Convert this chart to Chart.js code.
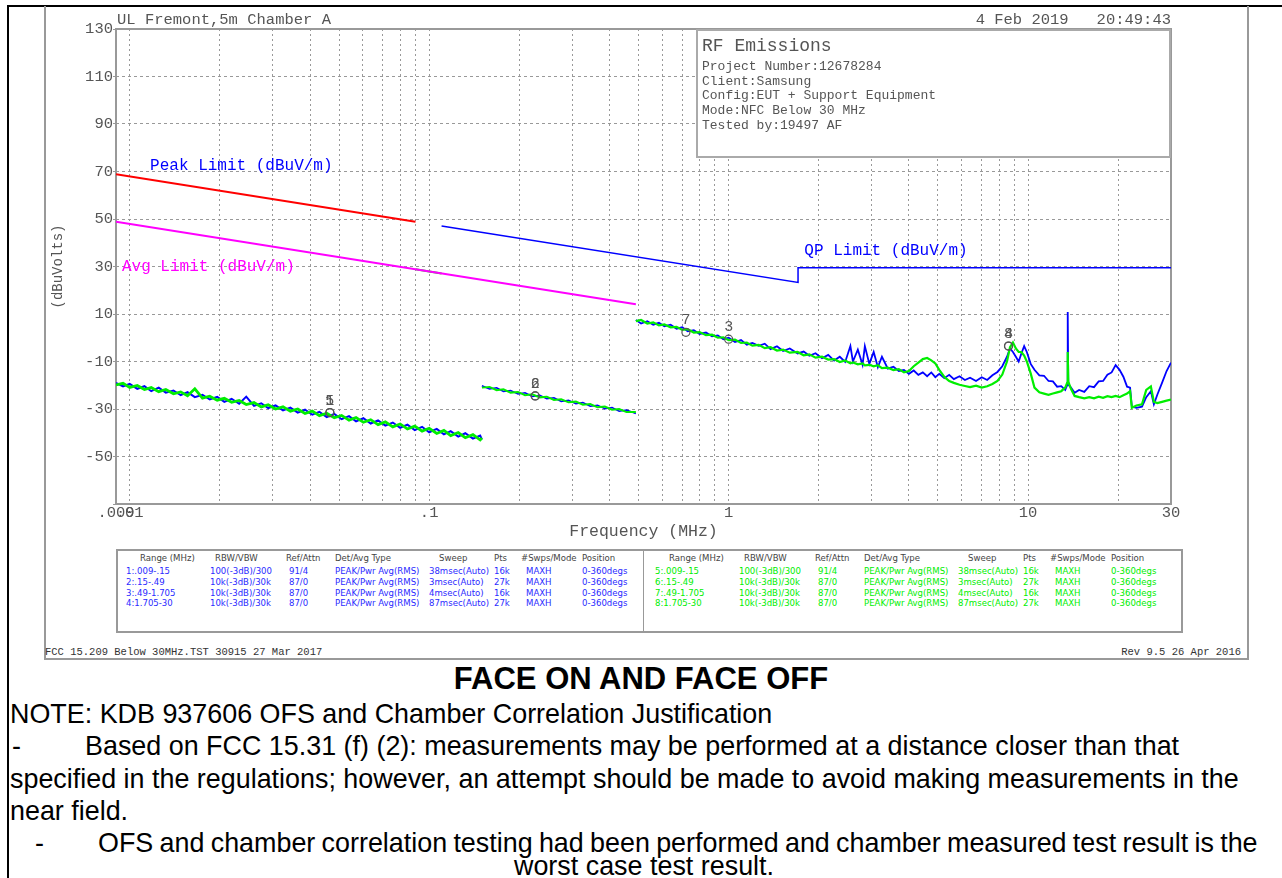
<!DOCTYPE html>
<html>
<head>
<meta charset="utf-8">
<script src="https://cdn.jsdelivr.net/npm/chart.js@4.4.1/dist/chart.umd.min.js"></script>
<style>
body { margin: 0; width: 1282px; height: 878px; position: relative; overflow: hidden; background: #fff; font-family: 'Liberation Sans', Arial, sans-serif; }
.abs { position: absolute; white-space: pre; }
.plt { font-family: 'Liberation Mono', monospace; color: #555; }
#rfbox { position: absolute; left: 696px; top: 29px; width: 471px; height: 125px; border: 2px solid #aaa; background: #fff; }
#tbl { position: absolute; left: 116px; top: 549px; width: 1063px; height: 80px; border: 2px solid #999; }
#tbl .div { position: absolute; left: 525px; top: 0; width: 1px; height: 80px; background: #999; }
.tc { position: absolute; white-space: pre; font-family: 'Liberation Sans Narrow', 'DejaVu Sans Condensed', 'Liberation Sans', sans-serif; font-size: 9.5px; line-height: 10px; }
.note { position: absolute; white-space: pre; font-size: 26.9px; line-height: 30px; color: #000; }
</style>
</head>
<body>
<div class="abs" style="left:7px;top:5px;width:2px;height:873px;background:#000"></div>
<div class="abs" style="left:7px;top:5px;width:1275px;height:2px;background:#000"></div>
<div class="abs" style="left:44px;top:6px;width:1201px;height:652px;border:2px solid #999;border-top:none"></div>

<canvas id="emc" width="1282" height="548" style="position:absolute;left:0;top:0"></canvas>

<div class="abs plt" style="left:117px;top:11px;font-size:15.5px;line-height:18px">UL Fremont,5m Chamber A</div>
<div class="abs plt" style="right:111px;top:11px;font-size:15.5px;line-height:18px">4 Feb 2019   20:49:43</div>

<div id="rfbox">
  <div class="abs plt" style="left:4px;top:4px;font-size:18px;line-height:22px">RF Emissions</div>
  <div class="abs plt" style="left:4px;top:29px;font-size:13px;line-height:14.7px">Project Number:12678284
Client:Samsung
Config:EUT + Support Equipment
Mode:NFC Below 30 MHz
Tested by:19497 AF</div>
</div>

<div id="tbl"><div class="div"></div></div>

<div class="abs plt" style="left:45px;top:646px;font-size:10.5px;line-height:12px;color:#333">FCC 15.209 Below 30MHz.TST 30915 27 Mar 2017</div>
<div class="abs plt" style="right:41px;top:646px;font-size:10.5px;line-height:12px;color:#333">Rev 9.5 26 Apr 2016</div>

<div class="abs" style="left:0;width:1282px;top:662px;text-align:center;font-weight:bold;font-size:31px;line-height:34px">FACE ON AND FACE OFF</div>
<div class="note" style="left:10px;top:699px">NOTE: KDB 937606 OFS and Chamber Correlation Justification</div>
<div class="note" style="left:12px;top:731px">-</div>
<div class="note" style="left:85px;top:731px">Based on FCC 15.31 (f) (2): measurements may be performed at a distance closer than that</div>
<div class="note" style="left:10px;top:764px">specified in the regulations; however, an attempt should be made to avoid making measurements in the</div>
<div class="note" style="left:10px;top:796px">near field.</div>
<div class="note" style="left:35px;top:828px">-</div>
<div class="note" style="left:98px;top:828px;word-spacing:-1.2px">OFS and chamber correlation testing had been performed and chamber measured test result is the</div>
<div class="note" style="left:0;width:1288px;top:851px;text-align:center">worst case test result.</div>

<script>
// limit lines (MHz, dBuV/m)
const peakLimitFreq = [0.009, 0.09];
const peakLimitVal = [68.8, 48.8];
const avgLimitFreq = [0.009, 0.49];
const avgLimitVal = [48.8, 14.1];
const midLimitFreq = [0.09, 0.11];
const midLimitVal = [28.8, 27.1];
const qpLimitFreq = [0.11, 1.705, 1.705, 30];
const qpLimitVal = [47.1, 23.3, 29.5, 29.5];

// trace, range .009-.15
const seg1Freq = [0.009, 0.0095, 0.01, 0.0106, 0.0112, 0.0118, 0.0125, 0.0132, 0.014, 0.0148, 0.0156, 0.0165, 0.0175,
  0.0185, 0.0196, 0.0207, 0.0219, 0.0232, 0.0245, 0.026, 0.0275, 0.029, 0.0307, 0.0325, 0.0344, 0.0364, 0.0385, 0.0407,
  0.043, 0.0455, 0.0482, 0.051, 0.054, 0.057, 0.0603, 0.0638, 0.0675, 0.0714, 0.0756, 0.08, 0.0846, 0.0895, 0.0947, 0.1,
  0.106, 0.112, 0.118, 0.125, 0.132, 0.14, 0.148, 0.15];
const seg1Blue = [-19.0, -20.5, -19.4, -21.5, -20.4, -22.5, -21.0, -23.1, -22.2, -24.2, -22.9, -25.0, -24.0,
  -26.0, -24.9, -27.0, -25.7, -27.8, -24.8, -28.7, -27.6, -29.6, -28.5, -30.6, -29.4, -31.5, -30.3, -32.4,
  -31.2, -33.4, -32.1, -34.3, -33.0, -35.2, -33.9, -36.1, -34.8, -37.0, -35.7, -37.9, -36.6, -38.9, -37.5, -39.8,
  -38.4, -40.7, -39.3, -41.6, -40.2, -42.5, -41.2, -42.8];
const seg1Green = [-19.9, -19.2, -20.9, -20.1, -21.8, -21.0, -22.7, -21.8, -23.6, -22.8, -24.4, -21.5, -25.4,
  -24.6, -26.3, -25.5, -27.2, -26.4, -28.1, -27.3, -29.1, -28.2, -30.0, -29.1, -30.9, -30.0, -31.9, -30.9,
  -32.8, -31.8, -33.7, -32.7, -34.7, -33.6, -35.6, -34.5, -36.6, -35.4, -37.5, -36.3, -38.4, -37.2, -39.3, -38.1,
  -40.3, -39.0, -41.2, -39.9, -42.1, -40.8, -43.0, -42.2];

// trace, range .15-.49
const seg2Freq = [0.15, 0.159, 0.168, 0.177, 0.187, 0.198, 0.209, 0.221, 0.234, 0.247, 0.261, 0.276, 0.292, 0.309,
  0.326, 0.345, 0.365, 0.386, 0.408, 0.431, 0.456, 0.49];
const seg2Blue = [-20.2, -21.6, -21.1, -22.6, -22.2, -23.7, -23.2, -24.7, -24.2, -25.7, -25.3, -26.8, -26.3, -27.8,
  -27.3, -28.8, -28.4, -29.9, -29.4, -30.9, -30.4, -31.9];
const seg2Green = [-21.0, -20.7, -22.1, -21.7, -23.1, -22.8, -24.2, -23.8, -25.1, -24.8, -26.2, -25.9, -27.2, -26.9,
  -28.2, -27.9, -29.3, -29.0, -30.3, -30.0, -31.3, -31.3];

// trace, ranges .49-1.705 and 1.705-30
const seg3Freq = [0.49, 0.51, 0.535, 0.56, 0.585, 0.61, 0.64, 0.67, 0.70, 0.73, 0.765, 0.80, 0.84, 0.88, 0.92, 0.96,
  1.0, 1.05, 1.10, 1.15, 1.2, 1.26, 1.32, 1.38, 1.45, 1.52, 1.6, 1.7, 1.78, 1.86, 1.95, 2.05, 2.15, 2.25, 2.35, 2.45,
  2.55, 2.6, 2.7, 2.8, 2.85, 2.95, 3.05, 3.15, 3.25, 3.4, 3.55, 3.7, 3.85, 4.0, 4.15, 4.3, 4.45, 4.6, 4.75, 4.9,
  5.05, 5.25, 5.45, 5.65, 5.9, 6.15, 6.4, 6.7, 7.0, 7.3, 7.6, 7.9, 8.2, 8.5, 8.7, 8.9, 9.1, 9.3, 9.5, 9.7, 9.9,
  10.2, 10.5, 10.9, 11.3, 11.7, 12.1, 12.5, 12.9, 13.3, 13.5, 13.56, 13.62, 13.9, 14.3, 14.8, 15.4, 16.0, 16.6,
  17.2, 17.8, 18.4, 19.0, 19.6, 20.2, 20.8, 21.4, 21.9, 22.2, 23, 24, 24.8, 25.7, 26.3, 27, 28, 29, 30];
const seg3Blue = [7.5, 6.0, 7.0, 5.5, 6.3, 4.8, 5.5, 3.8, 4.4, 2.7, 3.2, 1.6, 2.2, 0.6, 1.0, -0.6,
  0.0, -1.8, -1.0, -2.9, -2.2, -3.4, -2.5, -4.8, -3.6, -5.6, -4.5, -6.6, -5.8, -7.6, -6.5, -8.6, -7.2, -9.6, -8.0, -10.2,
  -3.5, -10.0, -5.0, -11.4, -3.5, -11.0, -6.0, -12.4, -8.0, -13.0, -12.2, -14.0, -13.6, -15.2, -13.8, -15.6, -14.6, -16.2, -14.6, -16.6,
  -15.2, -17.0, -15.6, -17.4, -16.2, -17.8, -16.8, -18.2, -16.6, -17.8, -15.8, -14.4, -12.0, -8.0, -4.5, -6.0, -8.0, -10.0, -6.5, -3.5, -6.0,
  -11.0, -13.5, -15.8, -16.0, -18.2, -18.4, -20.6, -20.4, -22.0, -20.0, 10.8, -19.5, -21.0, -23.2, -22.0, -22.8, -20.4, -20.8,
  -18.4, -18.2, -15.6, -14.6, -11.5, -13.5, -16.4, -20.6, -21.0, -29.0, -29.5, -29.0, -25.0, -22.5, -28.0, -24.0, -19.0, -14.0, -10.5];
const seg3Green = [7.0, 7.5, 6.0, 6.5, 5.2, 5.6, 4.4, 4.6, 3.3, 3.6, 2.2, 2.4, 1.1, 1.3, 0.0, 0.2,
  -1.0, -0.8, -2.2, -2.0, -3.3, -3.0, -4.4, -4.0, -5.4, -5.0, -6.3, -6.0, -7.4, -7.0, -8.4, -8.0, -9.2, -9.0, -10.2, -9.6,
  -10.8, -10.4, -11.2, -10.8, -11.6, -11.4, -12.0, -11.6, -12.8, -12.6, -13.6, -13.2, -14.6, -14.0, -12.0, -10.5, -9.0, -8.5, -9.5, -10.8,
  -13.5, -16.5, -18.2, -19.0, -19.8, -20.3, -20.8, -20.2, -21.0, -20.4, -19.5, -18.2, -15.5, -10.0, -4.0, -2.0, -4.5, -6.0, -6.0, -7.5, -10.0,
  -15.0, -21.0, -23.0, -23.5, -24.0, -23.5, -23.0, -22.5, -21.0, -19.0, -6.0, -18.5, -21.5, -24.5, -25.0, -25.5, -25.0, -25.5,
  -24.8, -25.3, -24.6, -25.0, -24.5, -25.0, -24.2, -23.5, -22.5, -29.5, -28.5, -28.0, -22.0, -20.5, -27.0, -27.5, -27.0, -26.5, -26.0];

// markers
const markerFreq = [0.0466, 0.0466, 0.226, 0.226, 0.72, 1.0, 8.6, 8.6];
const markerVal = [-31.5, -31.5, -24.5, -24.5, 2.3, -0.6, -3.5, -3.5];
const markerLabel = ['1', '5', '2', '6', '7', '3', '4', '8'];

// limit captions
const limitLabelText = ['Peak Limit (dBuV/m)', 'Avg Limit (dBuV/m)', 'QP Limit (dBuV/m)'];
const limitLabelFreq = [0.0117, 0.00942, 1.79];
const limitLabelVal = [72.6, 30, 36.8];

// axes
const gridFreqs = [0.009, 0.01, 0.02, 0.03, 0.04, 0.05, 0.06, 0.07, 0.08, 0.09,
  0.1, 0.2, 0.3, 0.4, 0.5, 0.6, 0.7, 0.8, 0.9, 1, 2, 3, 4, 5, 6, 7, 8, 9, 10, 20, 30];
const xLabelFreqs = [0.009, 0.01, 0.1, 1, 10, 30];
const xLabelText = ['.009', '.01', '.1', '1', '10', '30'];
const yTickVals = [-70, -50, -30, -10, 10, 30, 50, 70, 90, 110, 130];

// scan table
const tableHead = ['Range (MHz)', 'RBW/VBW', 'Ref/Attn', 'Det/Avg Type', 'Sweep', 'Pts', '#Swps/Mode', 'Position'];
const tableRows = [
  ['1:.009-.15', '100(-3dB)/300', '91/4', 'PEAK/Pwr Avg(RMS)', '38msec(Auto)', '16k', 'MAXH', '0-360degs'],
  ['2:.15-.49', '10k(-3dB)/30k', '87/0', 'PEAK/Pwr Avg(RMS)', '3msec(Auto)', '27k', 'MAXH', '0-360degs'],
  ['3:.49-1.705', '10k(-3dB)/30k', '87/0', 'PEAK/Pwr Avg(RMS)', '4msec(Auto)', '16k', 'MAXH', '0-360degs'],
  ['4:1.705-30', '10k(-3dB)/30k', '87/0', 'PEAK/Pwr Avg(RMS)', '87msec(Auto)', '27k', 'MAXH', '0-360degs']
];

const BLUE = '#0000ff';
const GREEN = '#00ee00';
const GREY = '#555';

function buildTable() {
    const tbl = document.getElementById('tbl');
    const headX = [22, 97, 168, 217, 321, 376, 403, 464];
    const cellX = [8, 92, 171, 217, 311, 376, 408, 464];
    const rowY = [15, 26, 37, 47];
    [0, 529].forEach((off, half) => {
        tableHead.forEach((h, i) => {
            const d = document.createElement('div');
            d.className = 'tc';
            d.style.left = (headX[i] + off) + 'px';
            d.style.top = '2px';
            d.style.color = '#444';
            d.textContent = h;
            tbl.appendChild(d);
        });
        tableRows.forEach((row, r) => {
            row.forEach((cell, i) => {
                const d = document.createElement('div');
                d.className = 'tc';
                d.style.left = (cellX[i] + off) + 'px';
                d.style.top = rowY[r] + 'px';
                d.style.color = half ? GREEN : '#2a2aff';
                d.textContent = (i === 0 && half) ? (r + 5) + cell.slice(1) : cell;
                tbl.appendChild(d);
            });
        });
    });
}

function toXY(freqs, vals) {
    return freqs.map((f, i) => ({x: f, y: vals[i]}));
}

const plotDecor = {
    id: 'plotDecor',
    beforeDatasetsDraw(chart) {
        const {ctx, chartArea: a} = chart;
        ctx.save();
        ctx.strokeStyle = '#999';
        ctx.lineWidth = 2;
        ctx.strokeRect(a.left, a.top, a.right - a.left, a.bottom - a.top);
        ctx.restore();
    },
    afterDatasetsDraw(chart) {
        const {ctx} = chart;
        const x = chart.scales.x;
        const y = chart.scales.y;
        const colors = [BLUE, '#ff00ff', BLUE];
        ctx.save();
        ctx.font = '16px "Liberation Mono"';
        ctx.textBaseline = 'middle';
        limitLabelText.forEach((t, i) => {
            ctx.fillStyle = colors[i];
            ctx.fillText(t, x.getPixelForValue(limitLabelFreq[i]), y.getPixelForValue(limitLabelVal[i]));
        });
        ctx.font = '15px "Liberation Mono"';
        ctx.fillStyle = GREY;
        ctx.textAlign = 'center';
        markerFreq.forEach((f, i) => {
            ctx.fillText(markerLabel[i], x.getPixelForValue(f), y.getPixelForValue(markerVal[i]) - 12);
        });
        ctx.restore();
    }
};

function drawChart() {
    const ctx = document.getElementById('emc').getContext('2d');
    const trace = (data, color, width, order) => ({data, borderColor: color, borderWidth: width, order});

    new Chart(ctx, {
        type: 'line',
        data: {
            datasets: [
                {data: toXY(markerFreq, markerVal), showLine: false, pointRadius: 4, pointStyle: 'circle',
                    pointBorderColor: GREY, pointBackgroundColor: 'rgba(0,0,0,0)', pointBorderWidth: 1.2, order: 0},
                trace(toXY(seg1Freq, seg1Green), GREEN, 2.8, 1),
                trace(toXY(seg2Freq, seg2Green), GREEN, 2, 1),
                trace(toXY(seg3Freq, seg3Green), GREEN, 2.2, 1),
                trace(toXY(seg1Freq, seg1Blue), BLUE, 2, 2),
                trace(toXY(seg2Freq, seg2Blue), BLUE, 1.5, 2),
                trace(toXY(seg3Freq, seg3Blue), BLUE, 1.8, 2),
                trace(toXY(peakLimitFreq, peakLimitVal), '#ff0000', 2, 3),
                trace(toXY(avgLimitFreq, avgLimitVal), '#ff00ff', 2, 3),
                trace(toXY(midLimitFreq, midLimitVal), '#22cc22', 2, 3),
                trace(toXY(qpLimitFreq, qpLimitVal), BLUE, 1.5, 3)
            ]
        },
        options: {
            responsive: false,
            animation: false,
            elements: {point: {radius: 0}, line: {tension: 0}},
            plugins: {legend: {display: false}, tooltip: {enabled: false}},
            layout: {padding: {left: 0, top: 29, right: 111, bottom: 4}},
            scales: {
                x: {
                    type: 'logarithmic',
                    min: 0.009,
                    max: 30,
                    afterBuildTicks: (s) => { s.ticks = gridFreqs.map(v => ({value: v})); },
                    afterFit: (s) => { s.height = 40; },
                    ticks: {
                        autoSkip: false,
                        maxRotation: 0,
                        padding: 1,
                        color: GREY,
                        font: {family: 'Liberation Mono', size: 15.5, lineHeight: 1},
                        callback: (v) => {
                            const k = xLabelFreqs.indexOf(v);
                            return k < 0 ? '' : xLabelText[k];
                        }
                    },
                    grid: {color: '#999', lineWidth: 1, drawTicks: false},
                    border: {display: false, dash: [2, 3]},
                    title: {display: true, text: 'Frequency (MHz)', color: GREY,
                        font: {family: 'Liberation Mono', size: 16.5, lineHeight: 1.2}, padding: {top: 0, bottom: 2}}
                },
                y: {
                    min: -70,
                    max: 130,
                    afterBuildTicks: (s) => { s.ticks = yTickVals.map(v => ({value: v})); },
                    afterFit: (s) => { s.width = 116; },
                    ticks: {
                        color: GREY,
                        padding: 0,
                        font: {family: 'Liberation Mono', size: 15.5},
                        callback: (v) => (v === -70 ? '' : String(v))
                    },
                    grid: {color: '#999', lineWidth: 1, tickLength: 3},
                    border: {display: false, dash: [3, 3]},
                    title: {display: true, text: '(dBuVolts)', color: GREY,
                        font: {family: 'Liberation Mono', size: 14, lineHeight: 1.2}, padding: {top: 50, bottom: 0}}
                }
            }
        },
        plugins: [plotDecor]
    });
}

window.onload = function() {
    buildTable();
    drawChart();
};
</script>
</body>
</html>
